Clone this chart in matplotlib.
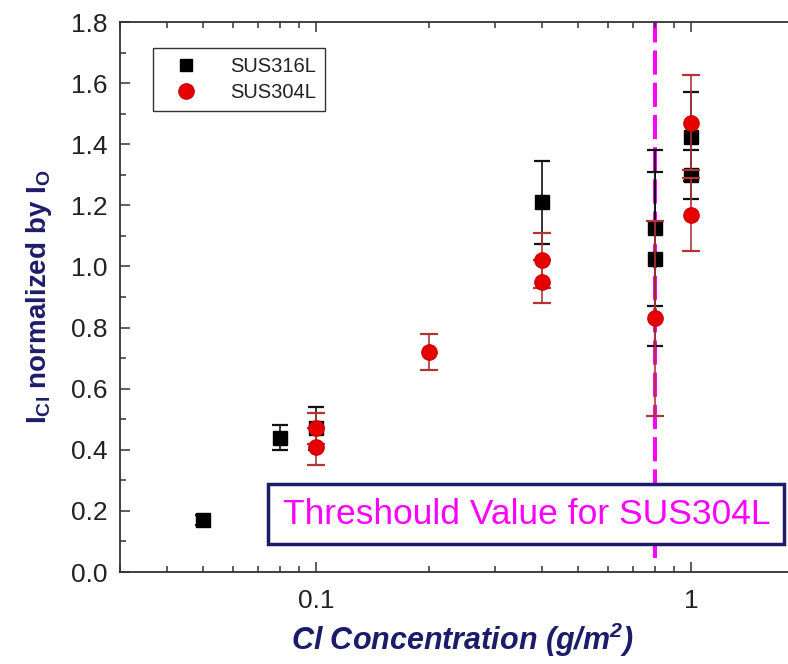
import matplotlib
matplotlib.use("Agg")
import matplotlib.pyplot as plt
from matplotlib import font_manager as fm
from matplotlib.patches import Rectangle
from matplotlib.lines import Line2D
from matplotlib.ticker import MultipleLocator, LogLocator, NullFormatter, FixedLocator, FixedFormatter

# ---------------- data ----------------
x_316 = [0.05, 0.08, 0.1, 0.4, 0.8, 0.8, 1.0, 1.0]
y_316 = [0.17, 0.44, 0.47, 1.21, 1.125, 1.025, 1.425, 1.30]
e_316 = [0.015, 0.042, 0.07, 0.135, 0.255, 0.285, 0.145, 0.08]

x_304 = [0.1, 0.1, 0.2, 0.4, 0.4, 0.8, 1.0, 1.0]
y_304 = [0.47, 0.41, 0.72, 1.02, 0.95, 0.83, 1.47, 1.17]
e_304 = [0.05, 0.06, 0.06, 0.09, 0.07, 0.32, 0.155, 0.12]

threshold_x = 0.8
threshold_label = "Threshould Value for SUS304L"
x_ticks = [0.1, 1]
x_ticklabels = ["0.1", "1"]
y_ticks = [0.0, 0.2, 0.4, 0.6, 0.8, 1.0, 1.2, 1.4, 1.6, 1.8]
y_ticklabels = ["0.0", "0.2", "0.4", "0.6", "0.8", "1.0", "1.2", "1.4", "1.6", "1.8"]
series_names = ["SUS316L", "SUS304L"]

# ---------------- fonts ----------------
names = {f.name for f in fm.fontManager.ttflist}
base = "Liberation Sans" if "Liberation Sans" in names else "DejaVu Sans"
plt.rcParams["font.family"] = [base, "DejaVu Sans"]
plt.rcParams["mathtext.default"] = "regular"

navy = "#1c1c6a"
magenta = "#ff00ff"
red = "#e60000"

fig = plt.figure(figsize=(7.88, 6.64), dpi=100)
ax = fig.add_axes([120 / 788, 92 / 664, 684 / 788, 550 / 664])

ax.set_xscale("log")
ax.set_xlim(0.03, 2.0)
ax.set_ylim(0.0, 1.8)

# threshold line
ax.axvline(threshold_x, ymin=0.025, ymax=1.0, color=magenta, lw=2.9,
           dashes=(6, 2), zorder=1)

# SUS316L
ax.errorbar(x_316, y_316, yerr=e_316, fmt="s", color="black", ms=9.5,
            ecolor="#111111", elinewidth=1.2, capsize=6, capthick=1.6,
            zorder=3)
# SUS304L
ax.errorbar(x_304, y_304, yerr=e_304, fmt="o", color=red, mec="#d00000",
            ms=11, ecolor="#b03535", elinewidth=1.2, capsize=6.5, capthick=1.6,
            zorder=4)

# ticks
ax.xaxis.set_major_locator(FixedLocator(x_ticks))
ax.xaxis.set_major_formatter(FixedFormatter(x_ticklabels))
ax.xaxis.set_minor_locator(LogLocator(base=10, subs=range(2, 10)))
ax.xaxis.set_minor_formatter(NullFormatter())
ax.yaxis.set_major_locator(FixedLocator(y_ticks))
ax.yaxis.set_major_formatter(FixedFormatter(y_ticklabels))
ax.yaxis.set_minor_locator(MultipleLocator(0.1))

ax.tick_params(which="both", direction="in", top=True, right=True,
               colors="#333333", labelcolor="#222222", width=1.1)
ax.tick_params(which="major", length=7, labelsize=19)
ax.tick_params(which="minor", length=4)
ax.tick_params(axis="y", pad=9)
ax.tick_params(axis="x", pad=12)
for s in ax.spines.values():
    s.set_color("#333333")
    s.set_linewidth(1.3)

# labels
ax.set_ylabel("I$_{Cl}$ normalized by I$_{O}$", fontsize=20,
              fontweight="bold", color=navy, labelpad=12)
ax.set_xlabel("Cl Concentration (g/m$^{2}$)", fontsize=22,
              fontweight="bold", fontstyle="italic", color=navy,
              labelpad=6)

# legend (marker-only handles)
handles = [
    Line2D([], [], ls="none", marker="s", color="black", ms=9),
    Line2D([], [], ls="none", marker="o", color=red, mec="#d00000", ms=11),
]
leg = ax.legend(handles, series_names, loc="upper left",
                bbox_to_anchor=(0.048, 0.953), borderaxespad=0,
                fancybox=False, edgecolor="black", fontsize=14.5,
                handletextpad=1.0, borderpad=0.45, labelspacing=0.35,
                handlelength=2.4, numpoints=1)
leg.get_frame().set_linewidth(1.0)
for t in leg.get_texts():
    t.set_color("#222222")

# threshold annotation box
rect = Rectangle((0.216, 0.051), 0.755, 0.109, transform=ax.transAxes,
                 facecolor="white", edgecolor=navy, lw=2.5, zorder=5)
ax.add_patch(rect)
ax.text(0.594, 0.105, threshold_label, transform=ax.transAxes,
        ha="center", va="center", color=magenta, fontsize=25.5, zorder=6)

fig.savefig("out.png", dpi=100)
